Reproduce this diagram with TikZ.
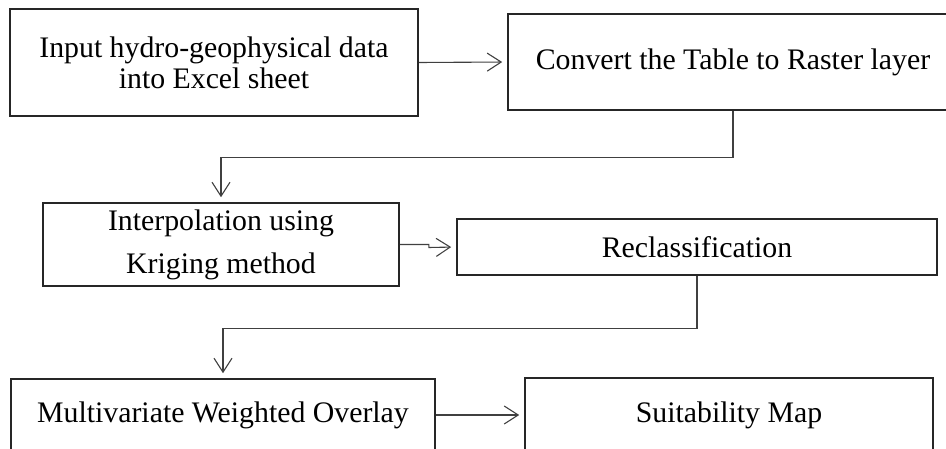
\documentclass[tikz,border=0pt]{standalone}
\usepackage{fontspec}
\setmainfont{Liberation Serif}
\usetikzlibrary{arrows.meta}
\begin{document}
\begin{tikzpicture}[x=1pt,y=-1pt,
  box/.style={draw=black!85,line width=1.6pt,rectangle,inner sep=0pt,align=center,
    font=\fontsize{29.8}{31}\selectfont},
  conn/.style={draw=black!75,line width=1.1pt,
    -{Straight Barb[length=14pt,width=18pt,line width=1.1pt]},shorten >=5pt}]
\useasboundingbox (0,0) rectangle (946,449);
\node[box,minimum width=408,minimum height=107] (in) at (214,62.5)
  {Input hydro-geophysical data\\into Excel sheet};
\node[box,minimum width=450,minimum height=96] (conv) at (733,62)
  {Convert the Table to Raster layer};
\node[box,minimum width=356,minimum height=83,font=\fontsize{29.8}{43}\selectfont] (interp) at (221,244.5)
  {Interpolation using\\Kriging method};
\node[box,minimum width=480,minimum height=56] (recl) at (697,247)
  {Reclassification};
\node[box,minimum width=424,minimum height=72] (mwo) at (223,415)
  {Multivariate Weighted Overlay};
\node[box,minimum width=408,minimum height=74] (suit) at (729,415)
  {Suitability Map};
\draw[conn] (in.east) -- (conv.west);
\draw[conn] (conv.south) -- ++(0,47) -| (interp.north);
\draw[conn] (interp.east) -- ++(29,0) -- ++(0,3) -- (recl.west);
\draw[conn] (recl.south) -- ++(0,53) -| (mwo.north);
\draw[conn] (mwo.east) -- (suit.west);
\end{tikzpicture}
\end{document}
